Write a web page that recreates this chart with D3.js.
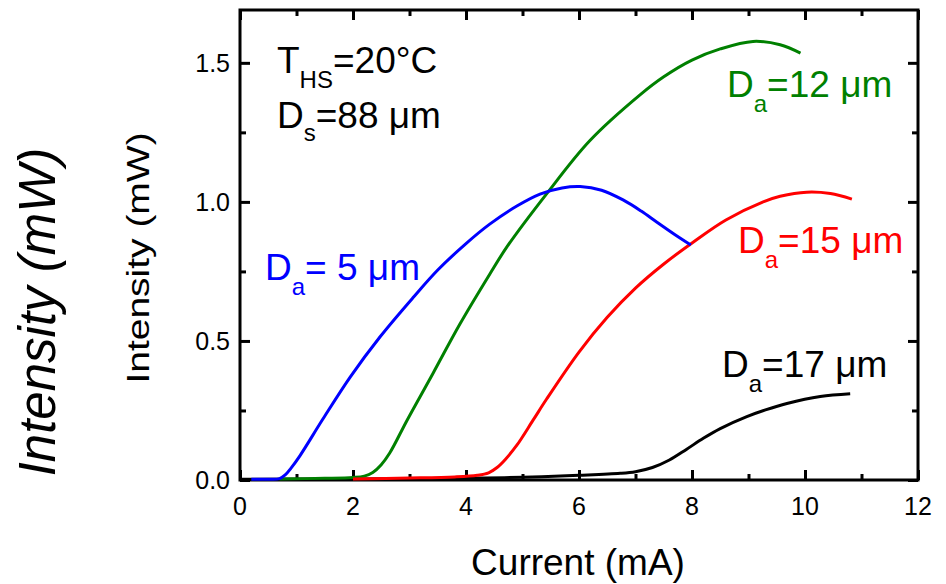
<!DOCTYPE html>
<html>
<head>
<meta charset="utf-8">
<script src="https://cdn.jsdelivr.net/npm/d3@7"></script>
<style>
  html, body { margin: 0; padding: 0; background: #fff; }
  svg { display: block; font-family: Arial, "Liberation Sans", sans-serif; }
</style>
</head>
<body>
<svg id="chart" width="946" height="584"></svg>
<script>
// Light output vs. drive current for four aperture diameters
const currentDa5  = [0.2, 0.5, 0.7, 0.8, 0.9, 1.06, 1.47, 1.95, 2.48, 3.06, 3.5, 4.0, 4.42, 4.9, 5.31, 5.7, 6.02, 6.4, 6.78, 7.1, 7.38, 7.7, 7.98];
const powerDa5    = [0.003, 0.003, 0.005, 0.018, 0.042, 0.087, 0.22, 0.37, 0.515, 0.655, 0.755, 0.85, 0.92, 0.985, 1.028, 1.05, 1.055, 1.042, 1.007, 0.967, 0.927, 0.882, 0.845];

const currentDa12 = [0.7, 1.5, 2.0, 2.2, 2.35, 2.5, 2.65, 2.96, 3.42, 3.89, 4.42, 4.73, 5.43, 6.19, 7.08, 7.5, 8.0, 8.5, 9.08, 9.56, 9.92];
const powerDa12   = [0.004, 0.006, 0.009, 0.014, 0.027, 0.055, 0.097, 0.216, 0.385, 0.56, 0.74, 0.84, 1.03, 1.22, 1.385, 1.45, 1.51, 1.55, 1.577, 1.565, 1.535];

const currentDa15 = [2.0, 3.0, 3.8, 4.2, 4.4, 4.55, 4.7, 4.9, 5.19, 5.43, 6.0, 6.5, 7.0, 7.49, 8.02, 8.6, 9.26, 9.56, 10.03, 10.45, 10.83];
const powerDa15   = [0.004, 0.007, 0.011, 0.017, 0.026, 0.045, 0.075, 0.125, 0.216, 0.292, 0.46, 0.585, 0.69, 0.775, 0.855, 0.935, 1.0, 1.02, 1.035, 1.03, 1.01];

const currentDa17 = [0.0, 2.0, 4.0, 5.0, 6.0, 6.73, 7.0, 7.3, 7.6, 7.9, 8.2, 8.5, 8.97, 9.3, 9.68, 10.27, 10.8];
const powerDa17   = [0.003, 0.004, 0.006, 0.01, 0.017, 0.024, 0.03, 0.045, 0.072, 0.11, 0.15, 0.185, 0.228, 0.252, 0.275, 0.30, 0.31];

const xMajorTicks = [0, 2, 4, 6, 8, 10, 12];
const xMinorTicks = [1, 3, 5, 7, 9, 11];
const yMajorTicks = [0.0, 0.5, 1.0, 1.5];
const yMinorTicks = [0.25, 0.75, 1.25];

const series = [
  { name: "Da17", x: currentDa17, y: powerDa17, color: "#000000" },
  { name: "Da12", x: currentDa12, y: powerDa12, color: "#008000" },
  { name: "Da15", x: currentDa15, y: powerDa15, color: "#ff0000" },
  { name: "Da5",  x: currentDa5,  y: powerDa5,  color: "#0000ff" }
];

const svg = d3.select("#chart");
const plotLeft = 240, plotRight = 918, plotTop = 10, plotBottom = 480;

const x = d3.scaleLinear().domain([0, 12]).range([plotLeft, plotRight]);
const y = d3.scaleLinear().domain([0, 1.69]).range([plotBottom, plotTop]);

const majorLen = 10, minorLen = 6;

// Frame with inward ticks on all four sides
function tickAxis(axisGen, tx, ty, vals, len) {
  const g = svg.append("g").attr("transform", `translate(${tx},${ty})`)
    .call(axisGen.tickValues(vals).tickSizeInner(len).tickSizeOuter(0).tickFormat(() => ""));
  g.select(".domain").remove();
  g.selectAll(".tick line").attr("stroke", "#000").attr("stroke-width", 3);
  return g;
}

tickAxis(d3.axisTop(x), 0, plotBottom, xMajorTicks, majorLen);
tickAxis(d3.axisTop(x), 0, plotBottom, xMinorTicks, minorLen);
tickAxis(d3.axisBottom(x), 0, plotTop, xMajorTicks, majorLen);
tickAxis(d3.axisBottom(x), 0, plotTop, xMinorTicks, minorLen);
tickAxis(d3.axisRight(y), plotLeft, 0, yMajorTicks, majorLen);
tickAxis(d3.axisRight(y), plotLeft, 0, yMinorTicks, minorLen);
tickAxis(d3.axisLeft(y), plotRight, 0, yMajorTicks, majorLen);
tickAxis(d3.axisLeft(y), plotRight, 0, yMinorTicks, minorLen);

svg.append("rect")
  .attr("x", plotLeft).attr("y", plotTop)
  .attr("width", plotRight - plotLeft).attr("height", plotBottom - plotTop)
  .attr("fill", "none").attr("stroke", "#000").attr("stroke-width", 3);

// Tick labels
svg.append("g").selectAll("text").data(xMajorTicks).join("text")
  .attr("x", d => x(d)).attr("y", 515)
  .attr("text-anchor", "middle").attr("font-size", 25).attr("fill", "#000")
  .text(d => d3.format("d")(d));

svg.append("g").selectAll("text").data(yMajorTicks).join("text")
  .attr("x", 230).attr("y", d => y(d) + 9)
  .attr("text-anchor", "end").attr("font-size", 25).attr("fill", "#000")
  .text(d => d3.format(".1f")(d));

// Axis titles
svg.append("text")
  .attr("x", (plotLeft + plotRight) / 2 - 1).attr("y", 575)
  .attr("text-anchor", "middle").attr("font-size", 37).attr("fill", "#000")
  .text("Current (mA)");

svg.append("text")
  .attr("transform", "translate(149,258) rotate(-90) scale(1,0.8)")
  .attr("text-anchor", "middle").attr("font-size", 39).attr("fill", "#000")
  .text("Intensity (mW)");

svg.append("text")
  .attr("transform", "translate(55,312) rotate(-90)")
  .attr("text-anchor", "middle").attr("font-size", 51).attr("font-style", "italic").attr("fill", "#000")
  .text("Intensity (mW)");

// Curves
const line = d3.line().curve(d3.curveCatmullRom.alpha(0.5));
svg.append("g").selectAll("path").data(series).join("path")
  .attr("fill", "none")
  .attr("stroke", d => d.color)
  .attr("stroke-width", 3)
  .attr("stroke-linejoin", "round")
  .attr("d", d => line(d.x.map((v, i) => [x(v), y(d.y[i])])));

// Annotations with subscripts
function subLabel(px, py, main, sub, rest, color, subDy) {
  const t = svg.append("text").attr("x", px).attr("y", py)
    .attr("font-size", 37).attr("fill", color);
  t.append("tspan").text(main);
  t.append("tspan").attr("font-size", 24).attr("dy", subDy).text(sub);
  t.append("tspan").attr("dy", -subDy).text(rest);
}

subLabel(277, 73, "T", "HS", "=20°C", "#000", 15);
subLabel(277, 128, "D", "s", "=88 μm", "#000", 13);
subLabel(727, 97, "D", "a", "=12 μm", "#008000", 15);
subLabel(738, 253, "D", "a", "=15 μm", "#ff0000", 15);
subLabel(722, 377, "D", "a", "=17 μm", "#000", 15);
subLabel(265, 280, "D", "a", "= 5 μm", "#0000ff", 15);
</script>
</body>
</html>
